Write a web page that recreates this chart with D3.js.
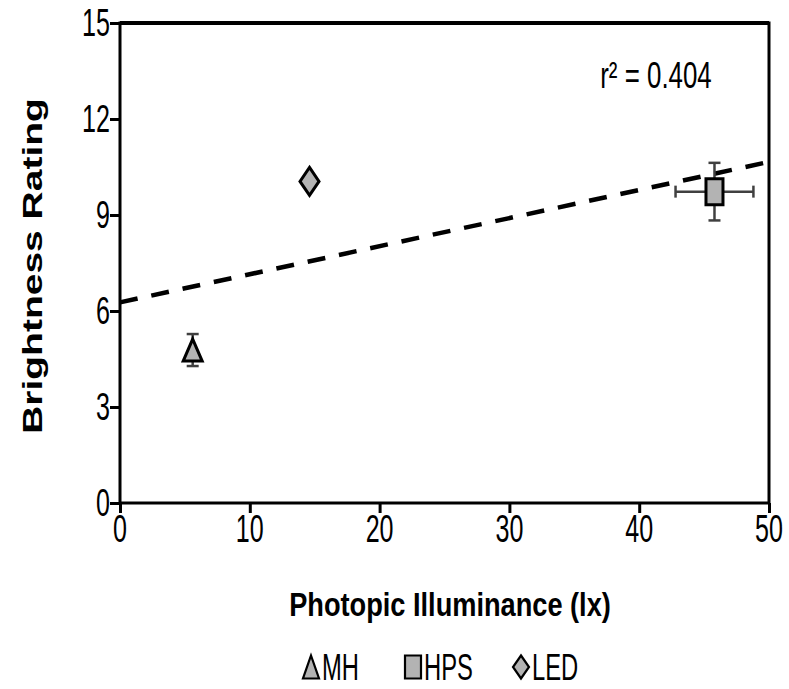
<!DOCTYPE html>
<html>
<head>
<meta charset="utf-8">
<script src="https://cdn.jsdelivr.net/npm/d3@7"></script>
<style>
  body { margin: 0; background: #fff; }
  svg text { font-family: "Liberation Sans", Arial, sans-serif; fill: #000; }
</style>
</head>
<body>
<svg id="chart" width="789" height="689"></svg>
<script>
// data
const sources = ["MH", "HPS", "LED"];
const shapes = ["triangle", "square", "diamond"];
const illuminance = [5.6, 45.8, 14.6];
const rating = [4.78, 9.73, 10.05];
const illumErr = [0, 3.0, 0];
const ratingErr = [0.5, 0.9, 0];

const trendX = [0, 50];
const trendY = [6.27, 10.66];
const rSquared = "r\u00B2 = 0.404";

const xTicks = [0, 10, 20, 30, 40, 50];
const yTicks = [0, 3, 6, 9, 12, 15];

const svg = d3.select("#chart");
const plotLeft = 120, plotRight = 769, plotTop = 23, plotBottom = 503;
const squish = 0.66; // the picture is narrow horizontally

let x = d3.scaleLinear().domain([0, 50]).range([plotLeft, plotRight]);
let y = d3.scaleLinear().domain([0, 15]).range([plotBottom, plotTop]);

// text helper: horizontally squished text anchored at (px,py)
function label(g, txt, px, py, size, anchor, bold, sx) {
    let t = g.append("g").attr("transform", `translate(${px},${py}) scale(${sx || squish},1)`)
        .append("text")
        .attr("text-anchor", anchor)
        .style("font-size", size + "px")
        .style("font-weight", bold ? "bold" : "normal")
        .text(txt);
    return t;
}

// frame
svg.append("rect")
    .attr("x", plotLeft).attr("y", plotTop)
    .attr("width", plotRight - plotLeft).attr("height", plotBottom - plotTop)
    .attr("fill", "none").attr("stroke", "#000").attr("stroke-width", 3);
// top edge is a bit heavier in the picture
svg.append("line")
    .attr("x1", plotLeft).attr("x2", plotRight)
    .attr("y1", plotTop).attr("y2", plotTop)
    .attr("stroke", "#000").attr("stroke-width", 4);

// axes, ticks go outward
let xAxis = svg.append("g").attr("transform", `translate(0,${plotBottom})`)
    .call(d3.axisBottom(x).tickValues(xTicks).tickSize(10).tickFormat(""));
let yAxis = svg.append("g").attr("transform", `translate(${plotLeft},0)`)
    .call(d3.axisLeft(y).tickValues(yTicks).tickSize(10).tickFormat(""));
svg.selectAll(".domain").remove();
svg.selectAll(".tick line").attr("stroke", "#000").attr("stroke-width", 3);

xTicks.forEach(v => label(svg, v, x(v), plotBottom + 39, 38, "middle"));
yTicks.forEach(v => label(svg, v, plotLeft - 10, y(v) + 13, 38, "end"));

// axis titles
label(svg, "Photopic Illuminance (lx)", 450, 616, 34, "middle", true, 0.8);
svg.append("g").attr("transform", "translate(42,266) rotate(-90) scale(1,0.72)")
    .append("text")
    .attr("text-anchor", "middle")
    .style("font-size", "39px")
    .style("font-weight", "bold")
    .text("Brightness Rating");

// r squared
label(svg, rSquared, 656, 88, 37, "middle", false, 0.7);

// trend line
svg.append("line")
    .attr("x1", x(trendX[0])).attr("y1", y(trendY[0]))
    .attr("x2", x(trendX[1])).attr("y2", y(trendY[1]))
    .attr("stroke", "#000").attr("stroke-width", 4.5)
    .attr("stroke-dasharray", "18,14");

// marker paths, w/h in px
function markerPath(shape, w, h) {
    if (shape === "triangle") return `M0,${-h/2} L${w/2},${h/2} L${-w/2},${h/2} Z`;
    if (shape === "diamond") return `M0,${-h/2} L${w/2},0 L0,${h/2} L${-w/2},0 Z`;
    return `M${-w/2},${-h/2} h${w} v${h} h${-w} Z`;
}
const markSize = { triangle: [19, 22], square: [17, 26], diamond: [19, 28] };

let pts = sources.map((s, i) => ({
    name: s, shape: shapes[i], x: illuminance[i], y: rating[i],
    ex: illumErr[i], ey: ratingErr[i]
}));

// error bars
let eb = svg.append("g").attr("stroke", "#404040").attr("stroke-width", 2.5);
pts.forEach(d => {
    if (d.ey > 0) {
        eb.append("line").attr("x1", x(d.x)).attr("x2", x(d.x))
            .attr("y1", y(d.y - d.ey)).attr("y2", y(d.y + d.ey));
        [d.y - d.ey, d.y + d.ey].forEach(v =>
            eb.append("line").attr("x1", x(d.x) - 6).attr("x2", x(d.x) + 6)
                .attr("y1", y(v)).attr("y2", y(v)));
    }
    if (d.ex > 0) {
        eb.append("line").attr("y1", y(d.y)).attr("y2", y(d.y))
            .attr("x1", x(d.x - d.ex)).attr("x2", x(d.x + d.ex));
        [d.x - d.ex, d.x + d.ex].forEach(v =>
            eb.append("line").attr("y1", y(d.y) - 6).attr("y2", y(d.y) + 6)
                .attr("x1", x(v)).attr("x2", x(v)));
    }
});

svg.selectAll(".pt").data(pts).enter().append("path")
    .attr("class", "pt")
    .attr("transform", d => `translate(${x(d.x)},${y(d.y)})`)
    .attr("d", d => markerPath(d.shape, markSize[d.shape][0], markSize[d.shape][1]))
    .attr("fill", "#b3b3b3").attr("stroke", "#000").attr("stroke-width", 3)
    .attr("stroke-linejoin", "miter");

// legend
const legendX = [311, 413, 521];
let lg = svg.append("g");
pts.forEach((d, i) => {
    lg.append("path")
        .attr("transform", `translate(${legendX[i]},667)`)
        .attr("d", markerPath(d.shape, 16, 23))
        .attr("fill", "#b3b3b3").attr("stroke", "#000").attr("stroke-width", 2.2);
    label(lg, d.name, legendX[i] + 11, 680, 36, "start");
});
</script>
</body>
</html>
